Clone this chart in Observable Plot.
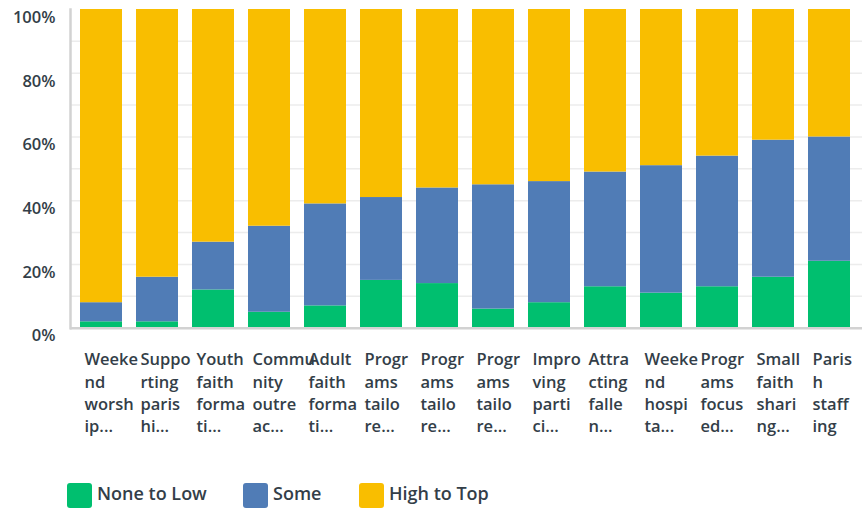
<!DOCTYPE html>
<html>
<head>
<meta charset="utf-8">
<script src="https://cdn.jsdelivr.net/npm/d3@7"></script>
<script src="https://cdn.jsdelivr.net/npm/@observablehq/plot@0.6"></script>
<style>
  body { margin: 0; background: #fff; font-family: "Open Sans", sans-serif; }
  #wrap { position: relative; width: 862px; height: 508px; }
  .legend { position: absolute; top: 483px; left: 0; height: 25px; }
  .item { position: absolute; display: flex; align-items: center; white-space: nowrap; }
  .sw { width: 25px; height: 25px; border-radius: 3px; margin-right: 5px; }
  .lab { font-size: 18px; font-weight: 600; color: #333e48; position: relative; top: -3px; }
</style>
</head>
<body>
<div id="wrap"></div>
<script>
const categories = [
  "Weekend worship...", "Supporting parishi...", "Youth faith formati...", "Community outreac...",
  "Adult faith formati...", "Programs tailore... (1)", "Programs tailore... (2)", "Programs tailore... (3)",
  "Improving partici...", "Attracting fallen...", "Weekend hospita...", "Programs focused...",
  "Small faith sharing...", "Parish staffing"
];
const tickLabels = [
  "Weeke\nnd\nworsh\nip...", "Suppo\nrting\nparis\nhi...", "Youth\nfaith\nforma\nti...", "Commu\nnity\noutre\nac...",
  "Adult\nfaith\nforma\nti...", "Progr\nams\ntailo\nre...", "Progr\nams\ntailo\nre...", "Progr\nams\ntailo\nre...",
  "Impro\nving\nparti\nci...", "Attra\ncting\nfalle\nn...", "Weeke\nnd\nhospi\nta...", "Progr\nams\nfocus\ned...",
  "Small\nfaith\nshari\nng...", "Paris\nh\nstaff\ning"
];
const series = ["None to Low", "Some", "High to Top"];
const colors = ["#00bf6f", "#507cb6", "#f9be00"];
const noneToLow = [2, 2, 12, 5, 7, 15, 14, 6, 8, 13, 11, 13, 16, 21];
const some      = [6, 14, 15, 27, 32, 26, 30, 39, 38, 36, 40, 41, 43, 39];
const highToTop = [92, 84, 73, 68, 61, 59, 56, 55, 54, 51, 49, 46, 41, 40];
const yTicks = [0, 20, 40, 60, 80, 100];
const gridTicks = [10, 20, 30, 40, 50, 60, 70, 80, 90];

const valuesBySeries = [noneToLow, some, highToTop];
const data = [];
series.forEach((s, si) => {
  categories.forEach((c, ci) => {
    data.push({category: c, series: s, value: valuesBySeries[si][ci]});
  });
});
const labelOf = new Map(categories.map((c, i) => [c, tickLabels[i]]));

const H = 460;
const chart = Plot.plot({
  width: 862,
  height: H,
  marginTop: 9,
  marginBottom: H - 327.7,
  marginLeft: 70,
  marginRight: 0,
  style: { fontFamily: "Open Sans, sans-serif", color: "#333e48", background: "#fff" },
  x: { domain: categories, range: [70, 860], paddingInner: 0.256, paddingOuter: 0.125 },
  y: { domain: [0, 100] },
  color: { domain: series, range: colors },
  marks: [
    Plot.ruleY(gridTicks, { stroke: "#ececec", strokeWidth: 1.5 }),
    Plot.barY(data, { x: "category", y: "value", fill: "series", order: null }),
    Plot.ruleY([0], { stroke: "#d2d2d2", strokeWidth: 2.5 }),
    Plot.frame({ anchor: "left", stroke: "#d2d2d2", strokeWidth: 2.5 }),
    Plot.axisY({
      ticks: yTicks, tickSize: 0, tickPadding: 15, dy: 8,
      tickFormat: d => d + "%", fontSize: 16.5, fontWeight: 600, fill: "#333e48", label: null
    }),
    Plot.axisX({
      tickSize: 0, tickPadding: 0, dy: 21, dx: -17, textAnchor: "start", lineAnchor: "top",
      lineHeight: 1.36, tickFormat: d => labelOf.get(d), fontSize: 16.5, fontWeight: 600,
      fill: "#333e48", label: null
    })
  ]
});
const wrap = document.getElementById("wrap");
wrap.appendChild(chart);

const legend = document.createElement("div");
legend.className = "legend";
const lefts = [67, 243, 359];
series.forEach((s, i) => {
  const it = document.createElement("div");
  it.className = "item";
  it.style.left = lefts[i] + "px";
  it.innerHTML = `<div class="sw" style="background:${colors[i]}"></div><span class="lab">${s}</span>`;
  legend.appendChild(it);
});
wrap.appendChild(legend);
</script>
</body>
</html>
